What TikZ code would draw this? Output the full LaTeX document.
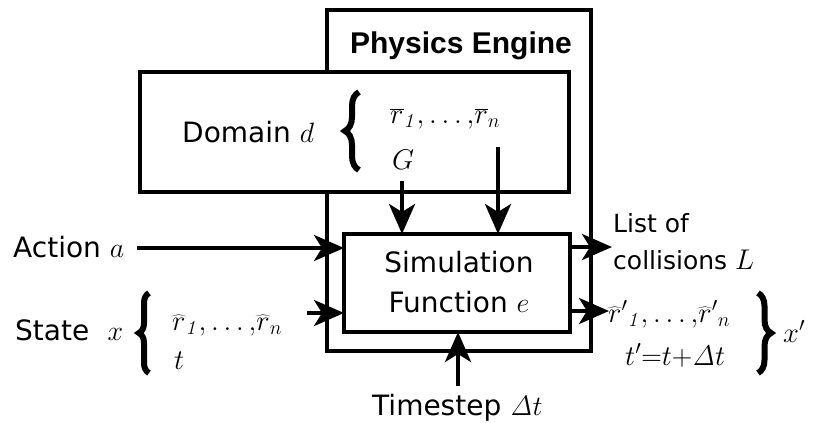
\RequirePackage{fix-cm}
\documentclass[tikz,border=0pt]{standalone}
\usepackage[no-math]{fontspec}
\newfontfamily\dv{DejaVu Sans}
\newfontfamily\lib{Liberation Sans}
\usetikzlibrary{arrows.meta,decorations.pathreplacing}
\newcommand\rhatsym{\mathord{\ooalign{$r$\cr\hidewidth$\widehat{\phantom{r\,}}$\hidewidth\cr}}}
\begin{document}
\begin{tikzpicture}[x=1pt,y=-1pt,
  box/.style={draw, line width=3.5pt, fill=white, inner sep=0pt, outer sep=0pt},
  arr/.style={line width=4pt, -{Stealth[length=30pt,width=26pt,inset=8pt]}},
  lbl/.style={font=\dv\fontsize{28}{33}\selectfont, inner sep=0pt, anchor=base west},
  mth/.style={font=\fontsize{28.5}{34}\selectfont, inner sep=0pt, anchor=base west},
  lst/.style={font=\dv\fontsize{25}{30}\selectfont, inner sep=0pt, anchor=base west},
  brc/.style={line width=6pt, decorate, decoration={brace, amplitude=#1}}
]
\useasboundingbox (0,0) rectangle (817,423);

% boxes
\node[box, minimum width=264pt, minimum height=341pt] (engine) at (459,180.5) {};
\node[font=\lib\bfseries\fontsize{30}{36}\selectfont, inner sep=0pt, anchor=base] (enginelbl) at (461,53) {Physics Engine};
\node[box, minimum width=429pt, minimum height=120pt] (domain) at (354.5,132) {};
\node[box, minimum width=226pt, minimum height=98pt] (sim) at (457,283) {};

% simulation text
\node[lbl, anchor=base] (simA) at (459,272) {Simulation};
\node[lbl, anchor=base] (simB) at (459,312) {Function $e$};

% domain text
\node[lbl] (domlbl) at (182,142) {Domain $d$};
\draw[brc=14pt] (359,170) -- (359,92);
\node[mth] (rbar) at (390,123) {$\overline{r}_{\mathit{1}}{,}\ldots{,}\overline{r}_{n}$};
\node[mth] (G) at (392,169) {$G$};

% action
\node[lbl] (actlbl) at (13,257) {Action $a$};
\coordinate (actS) at (137,248);
% state
\node[lbl] (statelbl) at (15,340) {State\,\, $x$};
\draw[brc=10pt] (149,373) -- (149,293);
\node[mth] (rhat) at (172,330) {$\rhatsym_{\mathit{1}}{,}\ldots{,}\rhatsym_{n}$};
\node[mth] (t) at (174,369) {$t$};
\coordinate (stateS) at (307,313);

% domain arrows
\coordinate (gS) at (402,181);
\coordinate (rnS) at (498,147);

% outputs
\node[lst] (list1) at (613,232) {List of};
\node[lst] (list2) at (613,269) {collisions {\fontsize{28.5}{34}\selectfont$L$}};
\coordinate (outA) at (612,247);
\node[mth] (rhatp) at (608,322) {$\rhatsym'{}_{\mathit{1}}{,}\ldots{,}\rhatsym'{}_{n}$};
\node[mth] (tp) at (625,365) {$t'{=}t{+}\mathit{\Delta}t$};
\coordinate (outB) at (609,311);
\draw[brc=13pt] (758,293) -- (758,373);
\node[mth] (xp) at (783,342) {$x'$};

% timestep
\node[lbl] (tslbl) at (372,415) {Timestep $\mathit{\Delta}t$};
\coordinate (tsS) at (458,386);

% arrows
\draw[arr] (actS) -- (actS -| sim.west);
\draw[arr] (stateS) -- (stateS -| sim.west);
\draw[arr] (gS) -- (gS |- sim.north);
\draw[arr] (rnS) -- (rnS |- sim.north);
\draw[arr] (outA -| sim.east) -- (outA);
\draw[arr] (outB -| sim.east) -- (outB);
\draw[arr] (tsS) -- (tsS |- sim.south);
\end{tikzpicture}
\end{document}
